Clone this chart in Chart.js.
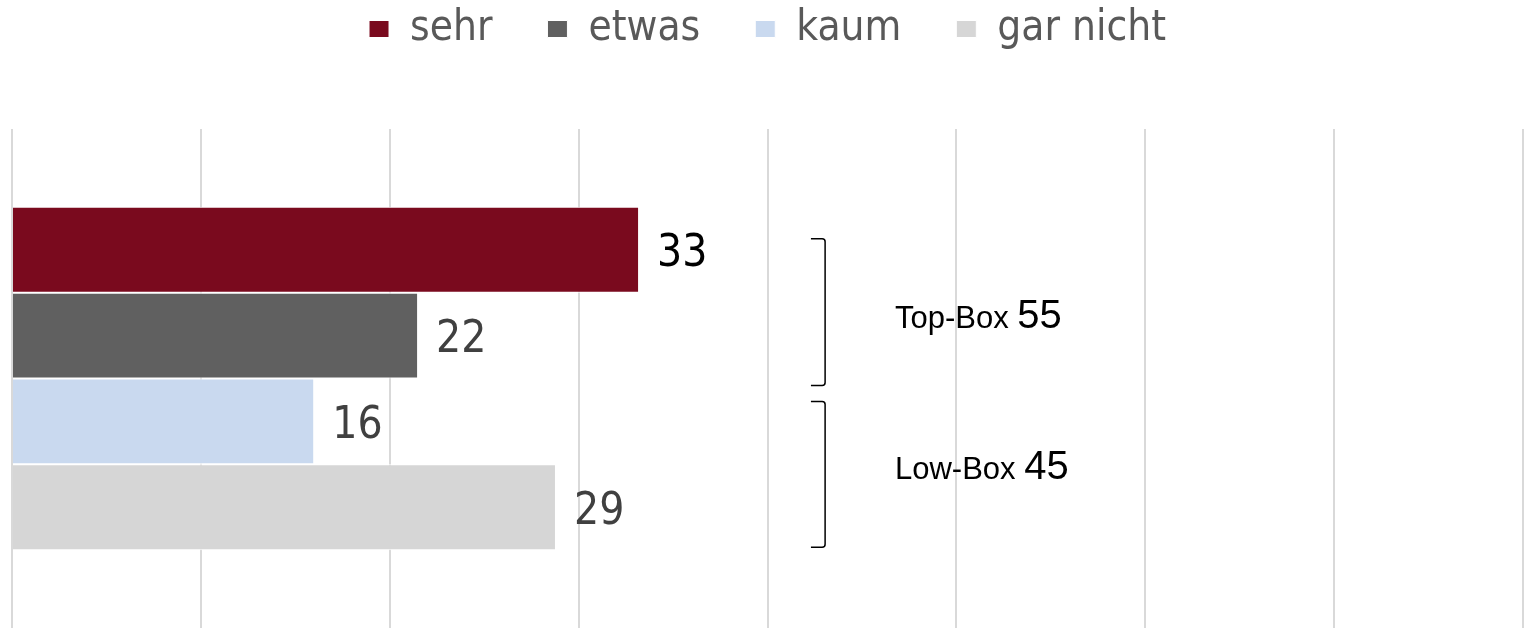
<!DOCTYPE html>
<html>
<head>
<meta charset="utf-8">
<script src="https://cdn.jsdelivr.net/npm/chart.js@4.4.1/dist/chart.umd.min.js"></script>
<style>
  html, body { margin: 0; padding: 0; background: #fff; }
  canvas { display: block; }
</style>
</head>
<body>
<canvas id="chart" width="1527" height="628"></canvas>
<script>
// data
const categories = [''];
const seriesNames = ['sehr', 'etwas', 'kaum', 'gar nicht'];
const seriesValues = [33.2, 21.5, 16.0, 28.8];
const valueLabels = ['33', '22', '16', '29'];
const boxNames = ['Top-Box', 'Low-Box'];
const boxValues = ['55', '45'];
const xTicks = [0, 10, 20, 30, 40, 50, 60, 70, 80];

const seriesColors = ['#7A0A1E', '#606060', '#C9D9EF', '#D6D6D6'];
const labelColors = ['#000000', '#404040', '#404040', '#404040'];
const condensed = '"DejaVu Sans Condensed", "DejaVu Sans", sans-serif';
const arial = '"Liberation Sans", Arial, sans-serif';

// legend sits at the very top, plot starts lower down
const legendSpace = {
  id: 'legendSpace',
  beforeUpdate(chart) {
    const lg = chart.legend;
    if (lg && !lg._patched) {
      const fit = lg.fit;
      lg.fit = function () { fit.call(this); this.height = 129; };
      lg._patched = true;
    }
  },
  afterLayout(chart) { chart.legend.top = -47; }
};

const barValues = {
  id: 'barValues',
  afterDatasetsDraw(chart) {
    const ctx = chart.ctx;
    ctx.save();
    ctx.font = '44px ' + condensed;
    ctx.textBaseline = 'middle';
    ctx.textAlign = 'left';
    chart.data.datasets.forEach((ds, i) => {
      const bar = chart.getDatasetMeta(i).data[0];
      ctx.fillStyle = labelColors[i];
      ctx.fillText(valueLabels[i], bar.x + 18, bar.y + 5);
    });
    ctx.restore();
  }
};

const boxBrackets = {
  id: 'boxBrackets',
  afterDatasetsDraw(chart) {
    const ctx = chart.ctx, x = chart.scales.x;
    const bars = chart.data.datasets.map((d, i) => chart.getDatasetMeta(i).data[0]);
    const xr = x.getPixelForValue(43.05), xl = x.getPixelForValue(42.3);
    const spans = [[bars[0].y - 11, bars[1].y + 50], [bars[2].y - 20, bars[3].y + 40]];
    const textY = [bars[1].y - 8, bars[3].y - 28];
    const tx = x.getPixelForValue(46.75);
    ctx.save();
    ctx.strokeStyle = '#000';
    ctx.lineWidth = 1.5;
    spans.forEach(([t, b], i) => {
      const r = 3;
      ctx.beginPath();
      ctx.moveTo(xl, t);
      ctx.lineTo(xr - r, t);
      ctx.quadraticCurveTo(xr, t, xr, t + r);
      ctx.lineTo(xr, b - r);
      ctx.quadraticCurveTo(xr, b, xr - r, b);
      ctx.lineTo(xl, b);
      ctx.stroke();

      ctx.fillStyle = '#000';
      ctx.textBaseline = 'alphabetic';
      ctx.font = '31px ' + arial;
      const name = boxNames[i] + ' ';
      ctx.fillText(name, tx, textY[i]);
      const w = ctx.measureText(name).width;
      ctx.font = '40px ' + arial;
      ctx.fillText(boxValues[i], tx + w, textY[i]);
    });
    ctx.restore();
  }
};

new Chart(document.getElementById('chart').getContext('2d'), {
  type: 'bar',
  data: {
    labels: categories,
    datasets: seriesNames.map((name, i) => ({
      label: name,
      data: [seriesValues[i]],
      backgroundColor: seriesColors[i],
      borderColor: '#ffffff',
      borderWidth: 1,
      barPercentage: 1,
      categoryPercentage: 0.688
    }))
  },
  options: {
    indexAxis: 'y',
    responsive: false,
    animation: false,
    layout: { padding: { left: 12, right: 4, top: 0, bottom: 0 } },
    plugins: {
      legend: {
        position: 'top',
        labels: {
          boxWidth: 20,
          boxHeight: 17,
          padding: 55,
          color: '#595959',
          font: { family: condensed, size: 42 }
        }
      },
      tooltip: { enabled: false }
    },
    scales: {
      x: {
        min: xTicks[0],
        max: xTicks[xTicks.length - 1],
        afterBuildTicks(axis) { axis.ticks = xTicks.map(v => ({ value: v })); },
        ticks: { display: false },
        grid: { color: '#D9D9D9', lineWidth: 2, drawTicks: false },
        border: { display: false }
      },
      y: {
        display: false
      }
    }
  },
  plugins: [legendSpace, barValues, boxBrackets]
});
</script>
</body>
</html>
